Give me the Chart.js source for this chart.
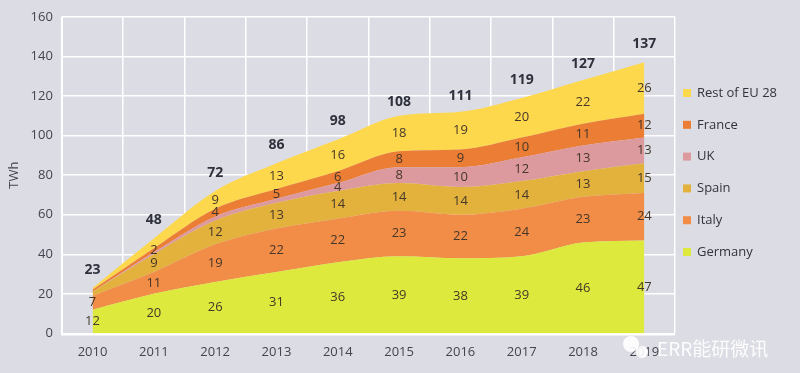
<!DOCTYPE html>
<html>
<head>
<meta charset="utf-8">
<script src="https://cdn.jsdelivr.net/npm/chart.js@4"></script>
<style>
  html, body { margin: 0; padding: 0; background: #dcdde4; }
  #wrap { width: 800px; height: 373px; }
</style>
</head>
<body>
<div id="wrap"><canvas id="chartTwh"></canvas></div>
<script>
const years = ["2010", "2011", "2012", "2013", "2014", "2015", "2016", "2017", "2018", "2019"];
const germany = [12, 20, 26, 31, 36, 39, 38, 39, 46, 47];
const italy = [7, 11, 19, 22, 22, 23, 22, 24, 23, 24];
const spain = [2, 9, 12, 13, 14, 14, 14, 14, 13, 15];
const uk = [0, 1, 2, 2, 4, 8, 10, 12, 13, 13];
const france = [1, 2, 4, 5, 6, 8, 9, 10, 11, 12];
const restOfEu = [1, 5, 9, 13, 16, 18, 19, 20, 22, 26];
const totals = [23, 48, 72, 86, 98, 108, 111, 119, 127, 137];

// bands too thin to carry a number in the original
const unlabeled = {
    "Spain": [0],
    "UK": [0, 1, 2, 3],
    "France": [0],
    "Rest of EU 28": [0, 1]
};

const FONT = "'Open Sans', sans-serif";

// numbers inside the bands + totals on top
const bandLabels = {
    id: "bandLabels",
    afterDatasetsDraw(chart) {
        const ctx = chart.ctx;
        const y = chart.scales.y;
        const base = years.map(() => 0);
        ctx.save();
        ctx.textAlign = "center";
        ctx.textBaseline = "middle";
        ctx.font = "13px " + FONT;
        ctx.fillStyle = "#45372a";
        chart.data.datasets.forEach((ds, i) => {
            const meta = chart.getDatasetMeta(i);
            const skip = unlabeled[ds.label] || [];
            ds.data.forEach((v, j) => {
                const lo = base[j];
                base[j] += v;
                if (skip.includes(j)) return;
                const mid = (y.getPixelForValue(lo) + y.getPixelForValue(base[j])) / 2;
                ctx.fillText(String(v), meta.data[j].x, mid);
            });
        });
        ctx.font = "bold 14px " + FONT;
        ctx.fillStyle = "#2e303c";
        const meta0 = chart.getDatasetMeta(0);
        totals.forEach((t, j) => {
            ctx.fillText(String(t), meta0.data[j].x, y.getPixelForValue(t) - 18);
        });
        ctx.restore();
    }
};

// legend column on the right, top item = last series
const sideLegend = {
    id: "sideLegend",
    afterDraw(chart) {
        const ctx = chart.ctx;
        const items = chart.data.datasets.slice().reverse();
        ctx.save();
        ctx.font = "13px " + FONT;
        ctx.textBaseline = "middle";
        items.forEach((ds, k) => {
            const cy = 93 + k * 31.8;
            ctx.fillStyle = ds.backgroundColor;
            ctx.fillRect(683, cy - 4, 8, 8);
            ctx.fillStyle = "#33333d";
            ctx.fillText(ds.label, 697, cy);
        });
        ctx.restore();
    }
};

// white frame on the left and bottom + watermark
const frame = {
    id: "frame",
    beforeDatasetsDraw(chart) {
        const { ctx, chartArea: a } = chart;
        ctx.save();
        ctx.strokeStyle = "#ffffff";
        ctx.lineWidth = 2;
        ctx.beginPath();
        ctx.moveTo(a.left, a.top);
        ctx.lineTo(a.left, a.bottom + 1);
        ctx.lineTo(a.right, a.bottom + 1);
        ctx.stroke();
        ctx.restore();
    },
    afterDraw(chart) {
        const ctx = chart.ctx;
        ctx.save();
        ctx.fillStyle = "rgba(255,255,255,0.9)";
        ctx.beginPath();
        ctx.arc(631, 344, 8, 0, Math.PI * 2);
        ctx.fill();
        ctx.beginPath();
        ctx.arc(642, 352, 6, 0, Math.PI * 2);
        ctx.fill();
        ctx.font = "19px 'Noto Sans CJK SC', sans-serif";
        ctx.textBaseline = "middle";
        ctx.fillText("ERR能研微讯", 657, 349);
        ctx.restore();
    }
};

const ctx = document.getElementById("chartTwh");

new Chart(ctx, {
    type: "line",
    data: {
        labels: years,
        datasets: [
            { label: "Germany", data: germany, backgroundColor: "#dde93c", fill: "origin" },
            { label: "Italy", data: italy, backgroundColor: "#f28d47", fill: "-1" },
            { label: "Spain", data: spain, backgroundColor: "#e2b23c", fill: "-1" },
            { label: "UK", data: uk, backgroundColor: "#dc9a9f", fill: "-1" },
            { label: "France", data: france, backgroundColor: "#ec7d34", fill: "-1" },
            { label: "Rest of EU 28", data: restOfEu, backgroundColor: "#fdd84c", fill: "-1" }
        ].map(d => Object.assign(d, {
            borderWidth: 0,
            borderColor: d.backgroundColor,
            pointRadius: 0,
            cubicInterpolationMode: "monotone"
        }))
    },
    options: {
        responsive: true,
        maintainAspectRatio: false,
        animation: false,
        layout: { padding: { top: 8, left: 6, right: 125, bottom: 2 } },
        scales: {
            x: {
                offset: true,
                grid: { offset: true, color: "#ffffff", lineWidth: 1.5, drawTicks: false },
                border: { display: false },
                ticks: { color: "#444450", font: { family: FONT, size: 13 }, padding: 11, maxRotation: 0 }
            },
            y: {
                stacked: true,
                min: 0,
                max: 160,
                grid: { color: "#ffffff", lineWidth: 1.5, drawTicks: false },
                border: { display: false },
                ticks: { stepSize: 20, color: "#444450", font: { family: FONT, size: 13 }, padding: 9 },
                title: { display: true, text: "TWh", color: "#444450", font: { family: FONT, size: 13 }, padding: 0 }
            }
        },
        plugins: {
            legend: { display: false },
            tooltip: { enabled: false }
        }
    },
    plugins: [bandLabels, sideLegend, frame]
});
</script>
</body>
</html>
